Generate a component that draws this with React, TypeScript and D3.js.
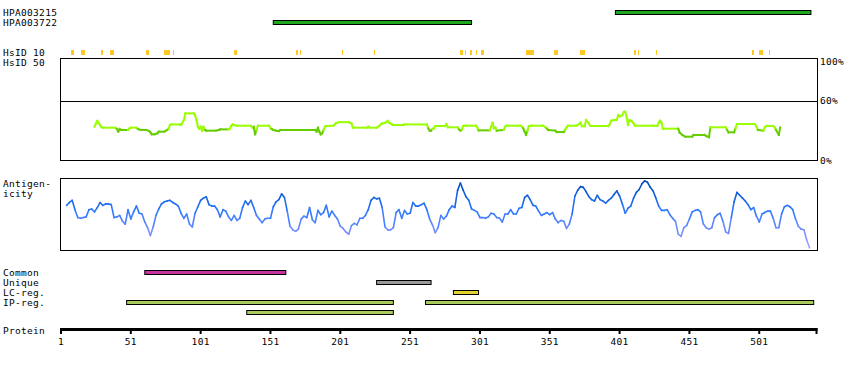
import React, { useEffect, useRef } from 'react';
import * as d3 from 'd3';

const proteinLength = 542;
const proteinTicks = [1, 51, 101, 151, 201, 251, 301, 351, 401, 451, 501];

const antibodyNames = ['HPA003215', 'HPA003722'];
const antibodyRanges = [[398, 538], [153, 295]];

// residues (start, end) with identity hits at the 10% level
const hsid10 = [
  [8, 9], [15, 17], [30, 30], [36, 38], [62, 63], [75, 78], [81, 81], [125, 126],
  [169, 170], [172, 172], [202, 202], [225, 225], [287, 288], [290, 290], [294, 294],
  [298, 298], [302, 303], [334, 339], [354, 356], [373, 375], [411, 412], [414, 414],
  [427, 427], [496, 496], [501, 503], [508, 508],
];

const percentTicks = [100, 60, 0];

// identity curve, breakpoints (residue, percent)
const identityResidues = [
  25, 26, 27, 28, 29, 30, 31, 40, 41, 42, 43, 44, 49, 50, 51, 55, 56, 58, 62, 64, 65, 66, 68, 70,
  71, 75, 77, 78, 79, 80, 86, 87, 89, 90, 96, 97, 98, 99, 100, 101, 102, 103, 104, 105, 112, 114,
  115, 121, 122, 123, 124, 125, 127, 137, 138, 139, 140, 141, 142, 150, 151, 152, 153, 155, 157,
  158, 183, 184, 185, 186, 187, 188, 189, 190, 191, 196, 197, 198, 200, 207, 208, 209, 210, 220,
  221, 222, 227, 228, 229, 230, 231, 233, 235, 236, 237, 238, 239, 246, 247, 263, 264, 265, 266,
  267, 268, 269, 276, 277, 278, 285, 286, 287, 288, 289, 290, 298, 299, 300, 308, 309, 310, 311,
  312, 313, 318, 319, 320, 330, 331, 332, 333, 334, 335, 336, 338, 346, 348, 349, 350, 355, 356,
  361, 362, 363, 364, 370, 372, 373, 374, 376, 377, 379, 380, 393, 394, 395, 397, 399, 400, 401,
  403, 404, 405, 406, 407, 408, 409, 410, 411, 412, 425, 428, 429, 430, 431, 432, 443, 444, 446,
  448, 453, 454, 462, 463, 465, 466, 477, 478, 479, 483, 484, 485, 498, 499, 500, 504, 505, 506,
  511, 512, 513, 515, 516,
];
const identityValues = [
  33.7, 37, 39.5, 37.6, 35.4, 33.4, 32.7, 32.7, 31.4, 28.7, 31.4, 30.4, 30.4, 32, 32.7, 32.7, 31.4,
  30.4, 30.4, 29.3, 28, 26, 26, 27, 28.7, 28.7, 30.4, 31.4, 35.4, 36, 36, 35.4, 40.5, 47.2, 47.2,
  45.5, 40.5, 33.7, 31.4, 33.7, 29.3, 33.7, 30.4, 29.7, 29.7, 30.4, 31, 31, 32, 34.7, 36, 35.4,
  34.7, 34.7, 32.7, 33.7, 26, 30.4, 34.7, 34.7, 32, 31.4, 30.4, 29.7, 29.3, 30.4, 30.4, 28.7, 32.7,
  28.7, 26, 27, 30.4, 33.7, 34.4, 34.7, 36, 37.3, 38.3, 38.3, 37.6, 37, 32.7, 32.7, 33.7, 32.7,
  32.7, 33.7, 34.7, 36, 37, 37.6, 39.5, 37.6, 37, 36, 35.4, 35.4, 36, 36, 32, 29.7, 29.7, 31.4, 32,
  34.4, 34.4, 36.4, 33.1, 33.1, 31, 29.7, 31, 34.4, 34.7, 34.7, 33.1, 30, 30, 33.7, 37.8, 32, 33.1,
  29.7, 30.4, 33.7, 34.7, 34.7, 33.7, 32, 28.7, 25.3, 29.7, 34.4, 34.7, 34.7, 33.1, 31.7, 30.4,
  29.7, 28.3, 28.3, 30.4, 33.1, 34.7, 34.7, 36.4, 37.8, 34.1, 34.1, 40.5, 37.1, 34.4, 34.4, 36.4,
  39.8, 40.5, 40.5, 45.5, 43.9, 45.5, 48.6, 48.9, 43.9, 35.4, 40.5, 39.8, 38.8, 37.1, 34.7, 34.7,
  34.4, 37.8, 39.8, 37.8, 31.7, 31.7, 27.7, 25.3, 23.6, 23.6, 25.3, 25.3, 24.3, 23, 33.1, 33.1,
  30.4, 28, 28, 32, 36.4, 36.4, 33.7, 30.4, 29.7, 33.1, 34.4, 34.4, 33.1, 30.4, 25.3, 33.1,
];

// antigenicity score (0-100), one reading every second residue from residue 5
const antigenFirst = 5;
const antigenicity = [
  62, 66, 69, 56, 45, 44, 45, 46, 56, 57, 53, 59, 66, 62, 64, 64, 63, 45, 46, 48,
  40, 36, 56, 43, 53, 61, 51, 50, 39, 31, 20, 32, 48, 57, 64, 67, 68, 69, 66, 64,
  61, 51, 44, 50, 36, 32, 51, 60, 69, 72, 74, 63, 61, 61, 56, 46, 56, 54, 46, 41,
  48, 41, 44, 59, 68, 63, 69, 59, 48, 43, 38, 43, 44, 44, 60, 67, 70, 78, 73, 54,
  33, 28, 26, 29, 43, 47, 45, 59, 42, 38,
  55, 49, 52, 62, 46, 54, 48, 43, 33, 30, 25, 22, 34, 37, 35, 44, 44, 48, 56, 69,
  73, 71, 72, 59, 32, 28, 28, 31, 52, 56, 44, 55, 50, 51, 66, 61, 61, 63, 65, 56,
  43, 35, 24, 31, 48, 43, 47, 56, 61, 59, 83, 93, 83, 74, 69, 57, 55, 53, 45, 45,
  44, 46, 51, 50, 45, 44, 39, 50, 50, 56, 50, 50, 58, 59, 73, 76, 70, 62, 61, 54,
  48, 50, 52, 49, 52, 43, 38, 41, 40,
  30, 36, 50, 75, 83, 88, 87, 81, 74, 70, 68, 76, 70, 68, 65, 69, 72, 77, 82, 75,
  64, 51, 58, 61, 72, 80, 84, 92, 96, 94, 87, 82, 72, 61, 55, 55, 56, 49, 44, 40,
  22, 19, 31, 34, 43, 53, 55, 56, 53, 36, 31, 29, 31, 45, 49, 51, 40, 25, 23, 45,
  67, 80, 76, 72, 68, 63, 56, 59, 47, 39, 50, 52, 54, 54, 44, 31, 31, 50, 60, 62,
  60, 56, 43, 33, 29, 28, 14, 3,
];

const regionNames = ['Common', 'Unique', 'LC-reg.', 'IP-reg.'];
const commonRanges = [[61, 162]];
const uniqueRanges = [[227, 266]];
const lcRanges = [[282, 300]];
const ipRanges = [[48, 239], [262, 540], [134, 239]];
const regionColors = ['#c4339e', '#9a9a9a', '#e6d22c', '#a8ca5c'];

function Chart() {
  const d3Container = useRef<SVGSVGElement>(null);

  useEffect(() => {
    if (!d3Container.current) return;
    const svg = d3.select(d3Container.current);
    svg.selectAll('*').remove();

    const x = d3.scaleLinear().domain([1, proteinLength]).range([61, 816.5]);
    const left = 60.5, right = 817.5;

    const text = (t: string, tx: number, ty: number, anchor = 'start') =>
      svg.append('text')
        .attr('x', tx).attr('y', ty)
        .attr('text-anchor', anchor)
        .attr('font-family', 'DejaVu Sans Mono, monospace')
        .attr('font-size', 9.5)
        .attr('letter-spacing', '0.3px')
        .attr('fill', '#000')
        .text(t);

    // antibodies
    antibodyNames.forEach((n, i) => {
      const y = 16.3 + i * 10;
      text(n, 3, y);
      const [s, e] = antibodyRanges[i];
      svg.append('rect')
        .attr('x', x(s)).attr('y', y - 5.8)
        .attr('width', x(e) - x(s)).attr('height', 4)
        .attr('fill', '#1fa81f').attr('stroke', '#000').attr('stroke-width', 1);
    });

    // HsID 10 marks
    text('HsID 10', 3, 56.3);
    text('HsID 50', 3, 66.3);
    svg.append('g').selectAll('rect')
      .data(hsid10)
      .join('rect')
      .attr('x', d => x(d[0]))
      .attr('y', 50)
      .attr('width', d => x(d[1] + 1) - x(d[0]))
      .attr('height', 5)
      .attr('fill', '#ffc820')
      .attr('shape-rendering', 'crispEdges');

    // identity panel
    const idY = d3.scaleLinear().domain([0, 100]).range([160, 61.2]);
    svg.append('rect')
      .attr('x', left).attr('y', 58.5)
      .attr('width', right - left).attr('height', 102)
      .attr('fill', 'none').attr('stroke', '#000');
    svg.append('line')
      .attr('x1', left).attr('x2', right)
      .attr('y1', Math.round(idY(60)) + 0.5).attr('y2', Math.round(idY(60)) + 0.5)
      .attr('stroke', '#000');
    percentTicks.forEach(p => text(`${p}%`, 820, idY(p) + 3.6));

    const idLine = d3.line<[number, number]>();
    const idG = svg.append('g');
    for (let i = 0; i < identityResidues.length - 1; i++) {
      const v0 = identityValues[i], v1 = identityValues[i + 1];
      idG.append('path')
        .attr('d', idLine([[x(identityResidues[i]), idY(v0)], [x(identityResidues[i + 1]), idY(v1)]]))
        .attr('fill', 'none')
        .attr('stroke', (v0 + v1) / 2 < 31.2 ? '#66cc00' : '#99ff00')
        .attr('stroke-width', 2)
        .attr('stroke-linecap', 'square');
    }

    // antigenicity panel
    text('Antigen-', 3, 187);
    text('icity', 3, 197);
    const agY = d3.scaleLinear().domain([0, 100]).range([250, 178]);
    const agColor = d3.scaleLinear<string>()
      .domain([0, 30, 55, 90])
      .range(['#aaa8ff', '#6f8cff', '#2b78ff', '#0050c0']);
    svg.append('rect')
      .attr('x', left).attr('y', 178.5)
      .attr('width', right - left).attr('height', 72)
      .attr('fill', 'none').attr('stroke', '#000');
    const agLine = d3.line<[number, number]>();
    const agG = svg.append('g');
    for (let i = 0; i < antigenicity.length - 1; i++) {
      const r0 = antigenFirst + 2 * i;
      const v0 = antigenicity[i], v1 = antigenicity[i + 1];
      agG.append('path')
        .attr('d', agLine([[x(r0), agY(v0)], [x(r0 + 2), agY(v1)]]))
        .attr('fill', 'none')
        .attr('stroke', agColor((v0 + v1) / 2))
        .attr('stroke-width', 1.6)
        .attr('stroke-linecap', 'round');
    }

    // region bars
    const regionRanges = [commonRanges, uniqueRanges, lcRanges, ipRanges];
    regionNames.forEach((n, i) => {
      text(n, 3, 276.3 + i * 10);
      const lanes: number[] = [];
      const laneOf = regionRanges[i].map(([s, e]) => {
        let l = lanes.findIndex(end => end < s);
        if (l < 0) { l = lanes.length; lanes.push(e); } else lanes[l] = e;
        return l;
      });
      regionRanges[i].forEach(([s, e], j) => {
        svg.append('rect')
          .attr('x', x(s)).attr('y', 270.5 + (i + laneOf[j]) * 10)
          .attr('width', x(e) - x(s)).attr('height', 4)
          .attr('fill', regionColors[i]).attr('stroke', '#000');
      });
    });

    // protein axis
    text('Protein', 3, 333.6);
    svg.append('rect')
      .attr('x', x(1)).attr('y', 328)
      .attr('width', x(proteinLength) - x(1) + 1).attr('height', 3)
      .attr('fill', '#000');
    [...proteinTicks, proteinLength].forEach(t => {
      svg.append('rect')
        .attr('x', x(t) - 1).attr('y', 328)
        .attr('width', 2).attr('height', 6)
        .attr('fill', '#000');
    });
    proteinTicks.forEach(t => text(String(t), x(t), 345.3, 'middle'));
  }, []);

  return (
    <svg
      ref={d3Container}
      width={850}
      height={370}
      style={{ position: 'absolute', left: 0, top: 0, background: '#fff' }}
    />
  );
}

export default function App() {
  return <Chart />;
}
